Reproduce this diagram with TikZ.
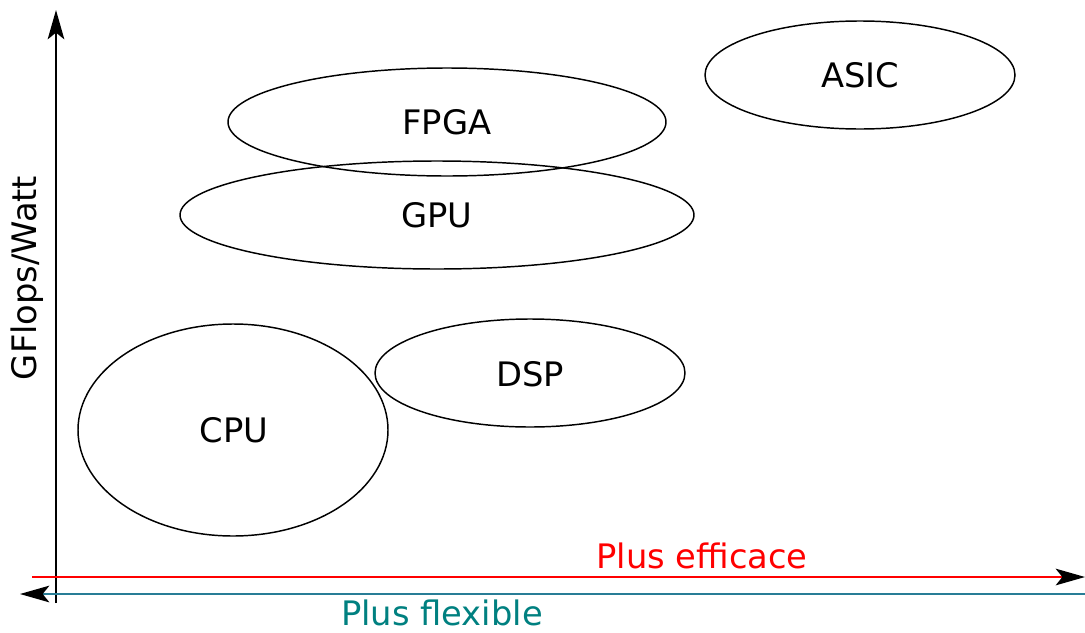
\documentclass[tikz,border=0pt]{standalone}
\usepackage{fontspec}
\setmainfont{DejaVu Sans}
\usetikzlibrary{arrows.meta}
\definecolor{flexline}{RGB}{40,125,150}
\definecolor{flextext}{RGB}{0,128,128}
\begin{document}
\begin{tikzpicture}[x=0.75pt,y=-0.75pt,
  lbl/.style={font=\fontsize{25.3}{30}\selectfont,inner sep=0pt},
  blob/.style={draw=black,line width=1.1pt},
  axis/.style={line width=1.1pt},
  tip/.style={-{Stealth[length=22pt,width=12.5pt,inset=5pt,black]}}]
\useasboundingbox (0,0) rectangle (1085,632);
% ellipses
\draw[blob] (447,122) ellipse [x radius=219, y radius=54];
\draw[blob] (437,215) ellipse [x radius=257, y radius=54];
\draw[blob] (860,75) ellipse [x radius=155, y radius=54];
\draw[blob] (530,373) ellipse [x radius=155, y radius=54];
\draw[blob] (233,430) ellipse [x radius=155, y radius=106];
\node[lbl] (fpga) at (447,122) {FPGA};
\node[lbl] (gpu) at (437,215) {GPU};
\node[lbl] (asic) at (860,75) {ASIC};
\node[lbl] (dsp) at (530,374) {DSP};
\node[lbl] (cpu) at (234,430) {CPU};
% axes
\coordinate (ybot) at (56,603);
\coordinate (ytop) at (56,10);
\coordinate (rstart) at (32,577);
\coordinate (rend) at (1085,577);
\coordinate (bstart) at (1085,594);
\coordinate (bend) at (20,594);
\draw[axis,black,tip] (ybot) -- (ytop);
\draw[axis,red,tip] (rstart) -- (rend);
\draw[axis,flexline,tip] (bstart) -- (bend);
\node[lbl,red] (eff) at (702,556) {Plus efficace};
\node[lbl,flextext] (flex) at (442,613) {Plus flexible};
\node[lbl,rotate=90] (gw) at (27,278) {GFlops/Watt};
\end{tikzpicture}
\end{document}
